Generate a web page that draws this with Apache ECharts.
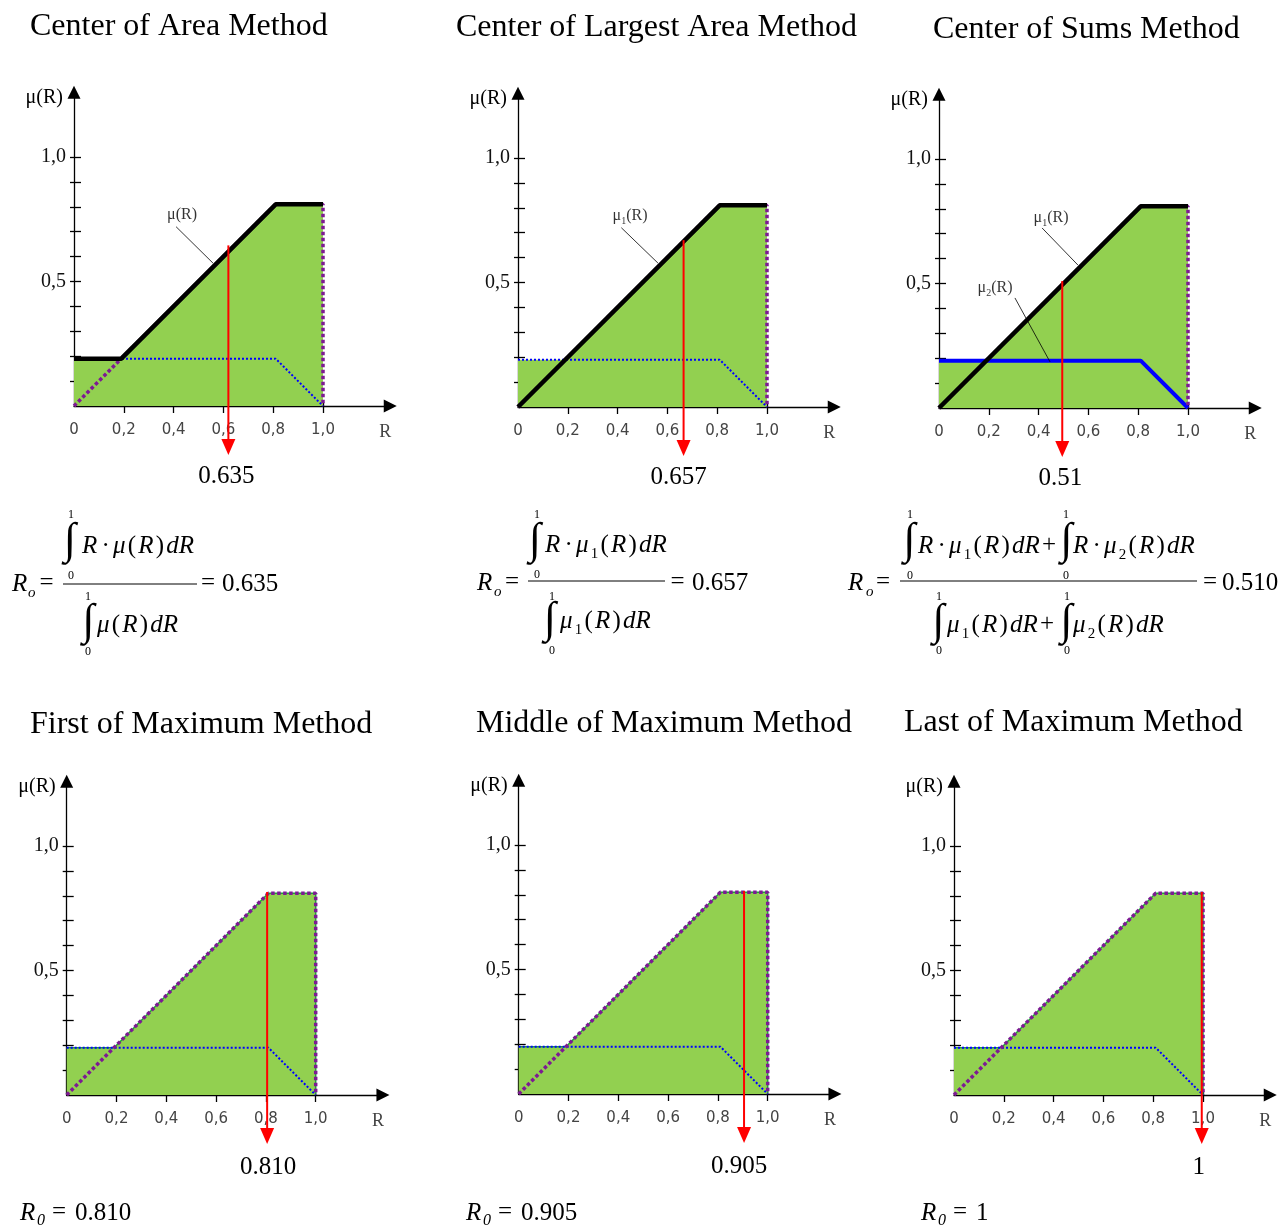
<!DOCTYPE html>
<html><head><meta charset="utf-8">
<script src="https://cdn.jsdelivr.net/npm/echarts@6/dist/echarts.min.js"></script>
<style>html,body{margin:0;padding:0;background:#fff}#c{width:1281px;height:1226px}</style>
</head><body><div id="c"></div>
<script>
// ---------------- data ----------------
const titles = ['Center of Area Method','Center of Largest Area Method','Center of Sums Method',
                'First of Maximum Method','Middle of Maximum Method','Last of Maximum Method'];
const resultLabels = ['0.635','0.657','0.51','0.810','0.905','1'];
const formulaValues = ['0.635','0.657','0.510','0.810','0.905','1'];
const arrowX   = [0.62, 0.665, 0.495, 0.805, 0.905, 0.995];
const arrowTop = [0.645, 0.67, 0.51, 0.815, 0.815, 0.815];
const xTickValues = [0, 0.2, 0.4, 0.6, 0.8, 1.0];
const xTickLabels = ['0','0,2','0,4','0,6','0,8','1,0'];
const xAxisNameValue = 1.25;
const yMinorTicks = [0.1,0.2,0.3,0.4,0.5,0.6,0.7,0.8,0.9,1.0];
const yLabelValues = [0.5, 1.0];
const yTickLabels = ['0,5','1,0'];
// membership functions
const mu1R = [0, 0.81, 1.0];  const mu1V = [0, 0.81, 0.81];
const mu2R = [0, 0.81, 1.0];  const mu2V = [0.19, 0.19, 0];
const aggR = [0, 0.19, 0.81, 1.0]; const aggV = [0.19, 0.19, 0.81, 0.81];
const supportEnd = 1.0;
// leader annotations (data coords)
const leaderLines = [
  [[[0.41,0.72],[0.558,0.574]]],
  [[[0.415,0.72],[0.562,0.578]]],
  [[[0.414,0.723],[0.558,0.574]], [[0.305,0.442],[0.446,0.185]]],
  [],[],[]
];
const leaderLabels = [
  [[0.434,0.767,'{m|μ(R)}']],
  [[0.45,0.767,'{m|μ}{s|1}{m|(R)}']],
  [[0.45,0.763,'{m|μ}{s|1}{m|(R)}'],[0.225,0.482,'{m|μ}{s|2}{m|(R)}']],
  [],[],[]
];

// ---------------- layout ----------------
const SERIF = 'Liberation Serif';
const P = [{ox:74,oy:406},{ox:518,oy:407},{ox:939,oy:408},{ox:66.7,oy:1095},{ox:518.7,oy:1094},{ox:954,oy:1095}];
const S = 249, XMAX = 1.27, YMAX = 1.26;
const PURPLE = '#7d1a93';

function pts(R, V){ return R.map((r,k)=>[r, V[k]]); }
const mu1Path = pts(mu1R, mu1V).concat([[supportEnd, 0]]);
const fillPath = pts(aggR, aggV).concat([[supportEnd, 0]]);

const grids = [], xAxes = [], yAxes = [], series = [];
const axisLineStyle = {color:'#000', width:1.3};
P.forEach((p, i) => {
  grids.push({left:p.ox, top:p.oy - YMAX*S, width:XMAX*S, height:YMAX*S, containLabel:false, outerBoundsMode:'none'});
  xAxes.push({gridIndex:i, type:'value', min:0, max:XMAX, position:'bottom',
    axisLine:{show:true, onZero:true, symbol:['none','triangle'], symbolSize:[13,13], lineStyle:axisLineStyle},
    axisTick:{show:true, customValues:xTickValues.slice(1), length:7, lineStyle:axisLineStyle},
    axisLabel:{show:true, customValues:xTickValues.concat([xAxisNameValue]), margin:17,
      fontFamily:'DejaVu Sans', fontSize:15, color:'#444',
      formatter:(v)=>{const k = xTickValues.findIndex(t=>Math.abs(t-v)<1e-6); return k>=0 ? xTickLabels[k] : '{r|R}';},
      rich:{r:{fontFamily:SERIF, fontSize:18, color:'#444'}}},
    splitLine:{show:false}});
  xAxes.push({gridIndex:i, type:'value', min:0, max:XMAX, position:'top',
    axisLine:{show:false, onZero:true},
    axisTick:{show:true, inside:false, customValues:xTickValues.slice(1), length:4, lineStyle:axisLineStyle},
    axisLabel:{show:false}, splitLine:{show:false}});
  yAxes.push({gridIndex:i, type:'value', min:0, max:YMAX, position:'left',
    name:'μ(R)', nameLocation:'end', nameGap:-5,
    nameTextStyle:{fontFamily:SERIF, fontSize:20, color:'#000', align:'right', verticalAlign:'middle', padding:[0,11,0,0]},
    axisLine:{show:true, onZero:true, symbol:['none','triangle'], symbolSize:[13,13], lineStyle:axisLineStyle},
    axisTick:{show:true, customValues:yMinorTicks, length:4, lineStyle:axisLineStyle},
    axisLabel:{show:true, customValues:yLabelValues, margin:8, fontFamily:SERIF, fontSize:20, color:'#111',
      formatter:(v)=>{const k = yLabelValues.findIndex(t=>Math.abs(t-v)<1e-6); return k>=0 ? yTickLabels[k] : '';}},
    splitLine:{show:false}});
  yAxes.push({gridIndex:i, type:'value', min:0, max:YMAX, position:'right',
    axisLine:{show:false, onZero:true},
    axisTick:{show:true, inside:false, customValues:yMinorTicks, length:7, lineStyle:axisLineStyle},
    axisLabel:{show:false}, splitLine:{show:false}});

  const base = {xAxisIndex:2*i, yAxisIndex:2*i, silent:true, animation:false};
  series.push(Object.assign({}, base, {type:'line', data:fillPath, symbol:'none',
    lineStyle: i>=3 ? {color:'#23a03a', width:1.5} : {width:0},
    areaStyle:{color:'#92D050', opacity:1}, z:1}));
  series.push(Object.assign({}, base, {type:'line', data:pts(mu2R, mu2V), symbol:'none',
    lineStyle: i===2 ? {color:'#0000ff', width:4} : {color:'#0000ff', width:2, type:[2,2]}, z:2}));
  series.push(Object.assign({}, base, {type:'line', data:mu1Path, symbol:'none',
    lineStyle:{color:PURPLE, width:3.5, type:[3.5,2.5]}, z:3}));
  if (i < 3) {
    series.push(Object.assign({}, base, {type:'line', data: i===0 ? pts(aggR, aggV) : pts(mu1R, mu1V), symbol:'none',
      lineStyle:{color:'#000', width:4.5}, z:4}));
  }
  const labOff = [[-2,0],[-5,0],[-2,0],[1,0],[-5,0],[-3,0]][i];
  series.push(Object.assign({}, base, {type:'line', clip:false, z:6,
    symbol:'triangle', symbolSize:[14,16], symbolRotate:180, showSymbol:true,
    lineStyle:{color:'#ff0000', width:2}, itemStyle:{color:'#ff0000'},
    data:[{value:[arrowX[i], arrowTop[i]], symbol:'none'},
          {value:[arrowX[i], -0.165], label:{show:true, formatter:resultLabels[i], position:'bottom', distance: i<3 ? 9 : 11,
             offset:labOff, fontFamily:SERIF, fontSize:25, color:'#000'}}]}));
  leaderLines[i].forEach(seg => {
    series.push(Object.assign({}, base, {type:'line', data:seg, symbol:'none', lineStyle:{color:'#000', width:0.8}, z:5}));
  });
  if (leaderLabels[i].length) {
    series.push(Object.assign({}, base, {type:'scatter', symbolSize:0, z:7,
      data: leaderLabels[i].map(l => ({value:[l[0], l[1]], label:{formatter:l[2]}})),
      label:{show:true, position:'inside', rich:{
        m:{fontFamily:SERIF, fontSize:16, color:'#000', lineHeight:20},
        s:{fontFamily:SERIF, fontSize:10, color:'#000', lineHeight:10, verticalAlign:'bottom'}}}}));
  }
});

// ---------------- text graphics (titles, formulas) ----------------
const G = [];
const mctx = document.createElement('canvas').getContext('2d');
function F(size, it){ return (it ? 'italic ' : '') + size + 'px "' + SERIF + '"'; }
function W(t, size, it){ mctx.font = F(size, it); return mctx.measureText(t).width; }
function T(x, baseY, t, size, it, align){
  G.push({type:'text', x:x, y: baseY - 0.25*size, silent:true,
    style:{text:t, font:F(size, it), fill:'#000', align:align||'left', verticalAlign:'middle'}});
}
function C(x, cy, t, size, it){ // centered at (x, cy)
  G.push({type:'text', x:x, y:cy, silent:true,
    style:{text:t, font:F(size, it), fill:'#000', align:'center', verticalAlign:'middle'}});
}
function BAR(x1, x2, y){ G.push({type:'line', silent:true, shape:{x1:x1, y1:y, x2:x2, y2:y}, style:{stroke:'#000', lineWidth:1}}); }
function INT(cx, cy, lx, y1, y0){ C(cx, cy, '∫', 44, false); C(lx, y1, '1', 12, false); C(lx, y0, '0', 12, false); }
const K = {i:{size:25,it:true,dy:0}, r:{size:25,it:false,dy:0}, s:{size:15,it:false,dy:6},
           d:{size:25,it:false,dy:0,pre:2,post:1}};
function RUN(x, baseY, items){
  let cx = x;
  items.forEach(([t,k]) => {
    const st = K[k]; cx += (st.pre||0);
    T(cx, baseY + st.dy, t, st.size, st.it);
    cx += W(t, st.size, st.it) + 2.2 + (st.post||0);
  });
  return cx;
}
function PLUS(xLeft, cy){ G.push({type:'text', x:xLeft, y:cy, silent:true,
  style:{text:'+', font:F(25,false), fill:'#000', align:'left', verticalAlign:'middle'}}); }
function numItems(sub){ const a = [['R','i'],['·','d'],['μ','i']]; if (sub) a.push([sub,'s']); return a.concat([['(','r'],['R','i'],[')','r'],['dR','i']]); }
function denItems(sub){ const a = [['μ','i']]; if (sub) a.push([sub,'s']); return a.concat([['(','r'],['R','i'],[')','r'],['dR','i']]); }

const titlePos = [[30,35],[456,36],[933,38],[30,733],[476,732],[904,731]];
titles.forEach((t,i) => T(titlePos[i][0], titlePos[i][1], t, 32, false));

// Formula 1: Center of Area
T(12,591,'R',25,true); T(28,597,'o',15,true); C(46.5,583,'=',25,false);
BAR(63,197,584); C(208,583,'=',25,false); T(222,591,formulaValues[0],25,false);
INT(70,541,71,515,576); RUN(82,553,numItems(null));
INT(88.5,622,88,597,652); RUN(97,632,denItems(null));
// Formula 2: Center of Largest Area
T(477,590,'R',25,true); T(494,596,'o',15,true); C(512,582,'=',25,false);
BAR(528,665,581); C(677.5,582,'=',25,false); T(692,590,formulaValues[1],25,false);
INT(535,541,537,515,575); RUN(545,552,numItems('1'));
INT(550,620,552,597,651); RUN(560,628,denItems('1'));
// Formula 3: Center of Sums
T(848,590,'R',25,true); T(866,596,'o',15,true); C(883,582,'=',25,false);
BAR(900,1197,581); C(1210,582,'=',25,false); T(1222,590,formulaValues[2],25,false);
INT(909.5,541,910,515,576); let e1 = RUN(918,553,numItems('1')); PLUS(Math.min(e1, 1048), 545);
INT(1066.5,541,1066,515,576); RUN(1073,553,numItems('2'));
INT(938.5,622,939,597,651); let e2 = RUN(947,632,denItems('1')); PLUS(Math.min(e2, 1043), 624);
INT(1066.5,622,1067,597,651); RUN(1073,632,denItems('2'));
// Bottom results
[[20,1220],[466,1220],[921,1220]].forEach((p,k) => {
  T(p[0],p[1],'R',25,true); T(p[0]+17,p[1]+5,'0',16,true);
  C(p[0]+39,p[1]-8,'=',25,false); T(p[0]+55,p[1],formulaValues[3+k],25,false);
});

const chart = echarts.init(document.getElementById('c'), null, {renderer:'canvas'});
chart.setOption({
  animation:false, backgroundColor:'#fff',
  textStyle:{fontFamily:SERIF},
  grid:grids, xAxis:xAxes, yAxis:yAxes, series:series,
  graphic:{elements:G}
});
</script></body></html>
